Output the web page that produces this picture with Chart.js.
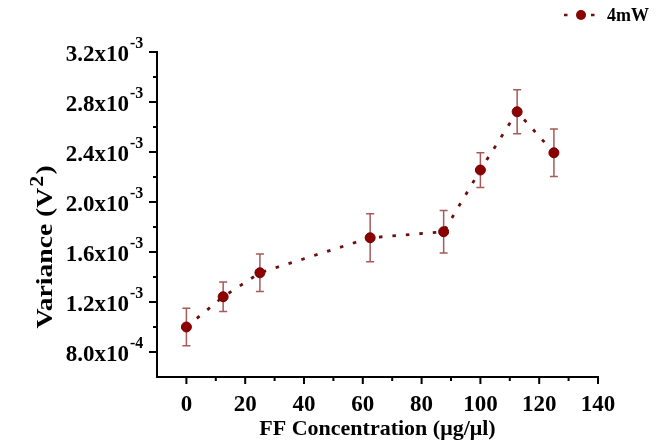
<!DOCTYPE html>
<html>
<head>
<meta charset="utf-8">
<script src="https://cdn.jsdelivr.net/npm/chart.js@4.4.1/dist/chart.umd.min.js"></script>
<style>
  html, body { margin: 0; padding: 0; background: #fff; }
  #wrap { width: 667px; height: 445px; }
</style>
</head>
<body>
<div id="wrap"><canvas id="chart" width="667" height="445"></canvas></div>
<script>
// FF concentration (ug/ul) vs variance (V^2), 4mW
const concentration = [0, 12.5, 25, 62.5, 87.5, 100, 112.5, 125];
const variance = [0.00100, 0.001242, 0.001434, 0.001714, 0.001762, 0.002256, 0.002722, 0.002394];
const varianceErr = [0.000150, 0.000118, 0.000150, 0.000192, 0.000170, 0.000139, 0.000176, 0.000190];

const xMajor = [0, 20, 40, 60, 80, 100, 120, 140];
const xMinor = [10, 30, 50, 70, 90, 110, 130];
const yMajor = [0.0008, 0.0012, 0.0016, 0.0020, 0.0024, 0.0028, 0.0032];
const yMinor = [0.0010, 0.0014, 0.0018, 0.0022, 0.0026, 0.0030];

const seriesLabel = '4mW';
const SERIF = '"Liberation Serif", "Times New Roman", serif';

function sciParts(v) {
    let exp = Math.floor(Math.log10(v) + 1e-9);
    let mant = v / Math.pow(10, exp);
    return [mant.toFixed(1) + 'x10', String(exp)];
}

const extras = {
    id: 'extras',
    beforeDatasetsDraw(chart) {
        const { ctx, scales: { x, y } } = chart;
        ctx.save();
        ctx.strokeStyle = '#a65a5a';
        ctx.lineWidth = 1.5;
        concentration.forEach((c, i) => {
            const px = x.getPixelForValue(c);
            const top = y.getPixelForValue(variance[i] + varianceErr[i]);
            const bot = y.getPixelForValue(variance[i] - varianceErr[i]);
            ctx.beginPath();
            ctx.moveTo(px, top); ctx.lineTo(px, bot);
            ctx.moveTo(px - 4, top); ctx.lineTo(px + 4, top);
            ctx.moveTo(px - 4, bot); ctx.lineTo(px + 4, bot);
            ctx.stroke();
        });
        ctx.restore();
    },
    afterDraw(chart) {
        const { ctx, scales: { x, y }, chartArea: a } = chart;
        ctx.save();
        ctx.strokeStyle = '#000';
        ctx.lineWidth = 2;
        // tick marks, pointing outward
        ctx.beginPath();
        xMajor.forEach(v => { const p = x.getPixelForValue(v); ctx.moveTo(p, a.bottom); ctx.lineTo(p, a.bottom + 7); });
        xMinor.forEach(v => { const p = x.getPixelForValue(v); ctx.moveTo(p, a.bottom); ctx.lineTo(p, a.bottom + 4); });
        yMajor.forEach(v => { const p = y.getPixelForValue(v); ctx.moveTo(a.left, p); ctx.lineTo(a.left - 8, p); });
        yMinor.forEach(v => { const p = y.getPixelForValue(v); ctx.moveTo(a.left, p); ctx.lineTo(a.left - 4, p); });
        ctx.stroke();

        // y tick labels with superscript exponents
        ctx.fillStyle = '#000';
        ctx.textBaseline = 'alphabetic';
        yMajor.forEach(v => {
            const p = y.getPixelForValue(v);
            const [base, exp] = sciParts(v);
            const baseRight = a.left - 28;
            ctx.font = 'bold 23px ' + SERIF;
            ctx.textAlign = 'right';
            ctx.fillText(base, baseRight, p + 9);
            ctx.font = 'bold 16px ' + SERIF;
            ctx.textAlign = 'left';
            ctx.fillText(exp, baseRight + 1, p - 4);
        });

        // y axis title, slightly stretched along its length like the original
        ctx.save();
        ctx.translate(52, 247);
        ctx.rotate(-Math.PI / 2);
        ctx.scale(1.15, 1);
        const t1 = 'Variance (V', t3 = ')';
        ctx.font = 'bold 19px ' + SERIF;
        const w2 = ctx.measureText('2').width;
        ctx.font = 'bold 24px ' + SERIF;
        const w1 = ctx.measureText(t1).width, w3 = ctx.measureText(t3).width;
        let sx = -(w1 + w2 + w3 + 2) / 2;
        ctx.textAlign = 'left';
        ctx.fillText(t1, sx, 0);
        ctx.font = 'bold 19px ' + SERIF;
        ctx.fillText('2', sx + w1 + 1, -9);
        ctx.font = 'bold 24px ' + SERIF;
        ctx.fillText(t3, sx + w1 + w2 + 2, 0);
        ctx.restore();

        // legend
        const ly = 15;
        ctx.strokeStyle = '#6b0f0f';
        ctx.lineWidth = 2.5;
        ctx.setLineDash([3.5, 10]);
        ctx.beginPath(); ctx.moveTo(564, ly); ctx.lineTo(598, ly); ctx.stroke();
        ctx.setLineDash([]);
        ctx.fillStyle = '#8b0000';
        ctx.beginPath(); ctx.arc(581, ly, 5, 0, Math.PI * 2); ctx.fill();
        ctx.fillStyle = '#000';
        ctx.font = 'bold 18px ' + SERIF;
        ctx.textAlign = 'left';
        ctx.fillText(seriesLabel, 607, ly + 6);
        ctx.restore();
    }
};

new Chart(document.getElementById('chart'), {
    type: 'line',
    data: {
        datasets: [{
            label: seriesLabel,
            data: concentration.map((c, i) => ({ x: c, y: variance[i] })),
            borderColor: '#6b0f0f',
            borderWidth: 2.8,
            borderDash: [3.5, 10],
            backgroundColor: '#8b0000',
            pointBackgroundColor: '#8b0000',
            pointBorderColor: '#780000',
            pointBorderWidth: 1,
            pointRadius: 5,
            fill: false,
            tension: 0
        }]
    },
    options: {
        responsive: false,
        animation: false,
        devicePixelRatio: 1,
        layout: { padding: { top: 52, right: 69, left: 0, bottom: 0 } },
        plugins: { legend: { display: false }, tooltip: { enabled: false } },
        scales: {
            x: {
                type: 'linear',
                min: -10, max: 140,
                grid: { display: false },
                border: { display: true, color: '#000', width: 2 },
                afterBuildTicks: s => { s.ticks = xMajor.map(v => ({ value: v })); },
                afterFit: s => { s.height = 68; },
                ticks: { color: '#000', padding: 6, maxRotation: 0, font: { family: SERIF, size: 23, weight: 'bold' } },
                title: {
                    display: true,
                    text: 'FF Concentration (μg/μl)',
                    color: '#000',
                    padding: { top: 0, bottom: 2 },
                    font: { family: SERIF, size: 22, weight: 'bold' }
                }
            },
            y: {
                type: 'linear',
                min: 0.0006, max: 0.0032,
                grid: { display: false },
                border: { display: true, color: '#000', width: 2 },
                afterBuildTicks: s => { s.ticks = yMajor.map(v => ({ value: v })); },
                afterFit: s => { s.width = 157; },
                ticks: { display: false }
            }
        }
    },
    plugins: [extras]
});
</script>
</body>
</html>
